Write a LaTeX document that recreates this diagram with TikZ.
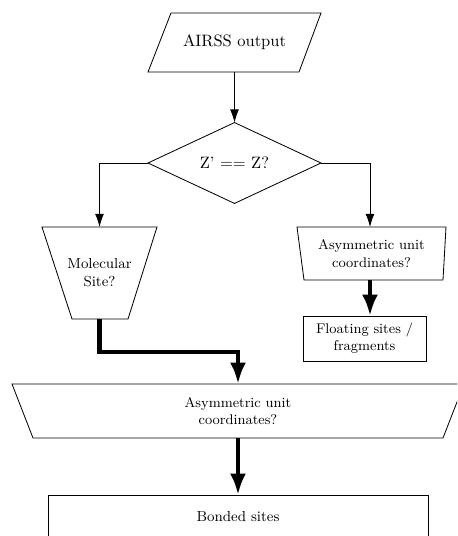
\documentclass[tikz,border=0pt]{standalone}
\usetikzlibrary{shapes.geometric,arrows.meta}
\begin{document}
\begin{tikzpicture}[x=0.606pt,y=-0.606pt,
  frame/.style={line width=0.5pt},
  box/.style={inner sep=0pt,outer sep=0pt,align=center},
  smalltext/.style={font=\fontsize{8.5}{10.5}\selectfont},
  midtext/.style={font=\fontsize{8.8}{10.8}\selectfont},
  thin/.style={line width=0.5pt,-{Latex[length=8pt,width=5.4pt]}},
  thick/.style={line width=3pt,-{Latex[length=13pt,width=9.7pt]}}]
\useasboundingbox (0,0) rectangle (457,536);
\clip (0,0) rectangle (457,536);
% AIRSS output (parallelogram)
\node[box,minimum width={173*0.606pt},minimum height={59*0.606pt}] (in) at (234.5,42.5) {AIRSS output};
\draw[frame] ([xshift={23*0.606pt}]in.north west) -- (in.north east)
  -- ([xshift={-22*0.606pt}]in.south east) -- (in.south west) -- cycle;
% decision
\node[box,draw,line width=0.5pt,shape=diamond,minimum width={173*0.606pt},minimum height={80*0.606pt}] (dec) at (234.5,163) {Z' == Z?};
% Molecular site
\node[box,midtext,minimum width={115*0.606pt},minimum height={92*0.606pt}] (mol) at (99.5,273) {Molecular\\Site?};
\draw[frame] (mol.north west) -- (mol.north east)
  -- ([xshift={-29*0.606pt}]mol.south east) -- ([xshift={30*0.606pt}]mol.south west) -- cycle;
% right asymmetric unit
\node[box,smalltext,minimum width={149*0.606pt},minimum height={53*0.606pt}] (asr) at (371.5,253.5) {Asymmetric unit\\coordinates?};
\draw[frame] (asr.north west) -- (asr.north east)
  -- ([xshift={-3*0.606pt}]asr.south east) -- ([xshift={7*0.606pt}]asr.south west) -- cycle;
% floating sites
\node[box,smalltext,draw,line width=0.5pt,minimum width={123*0.606pt},minimum height={45*0.606pt}] (flo) at (364.5,338.5) {Floating sites /\\fragments};
% big asymmetric unit
\node[box,smalltext,minimum width={452*0.606pt},minimum height={54*0.606pt}] (asb) at (238,411) {Asymmetric unit\\coordinates?};
\draw[frame] (asb.north west) -- (asb.north east)
  -- ([xshift={-21*0.606pt}]asb.south east) -- ([xshift={21*0.606pt}]asb.south west) -- cycle;
% bonded sites
\node[box,midtext,draw,line width=0.5pt,minimum width={380*0.606pt},minimum height={44*0.606pt}] (bon) at (238,517) {Bonded sites};
% connectors
\draw[thin] (in.south) -- (dec.north);
\draw[thin] (dec.west) -| (mol.north);
\draw[thin] (dec.east) -| ([xshift={-1.5*0.606pt}]asr.north);
\draw[thick] (mol.south) -- ++(0,33) -| (asb.north);
\draw[thick] ([xshift={-1.5*0.606pt}]asr.south) -- ([xshift={-1.5*0.606pt}]asr.south |- flo.north);
\draw[thick] (asb.south) -- (bon.north);
\end{tikzpicture}
\end{document}
